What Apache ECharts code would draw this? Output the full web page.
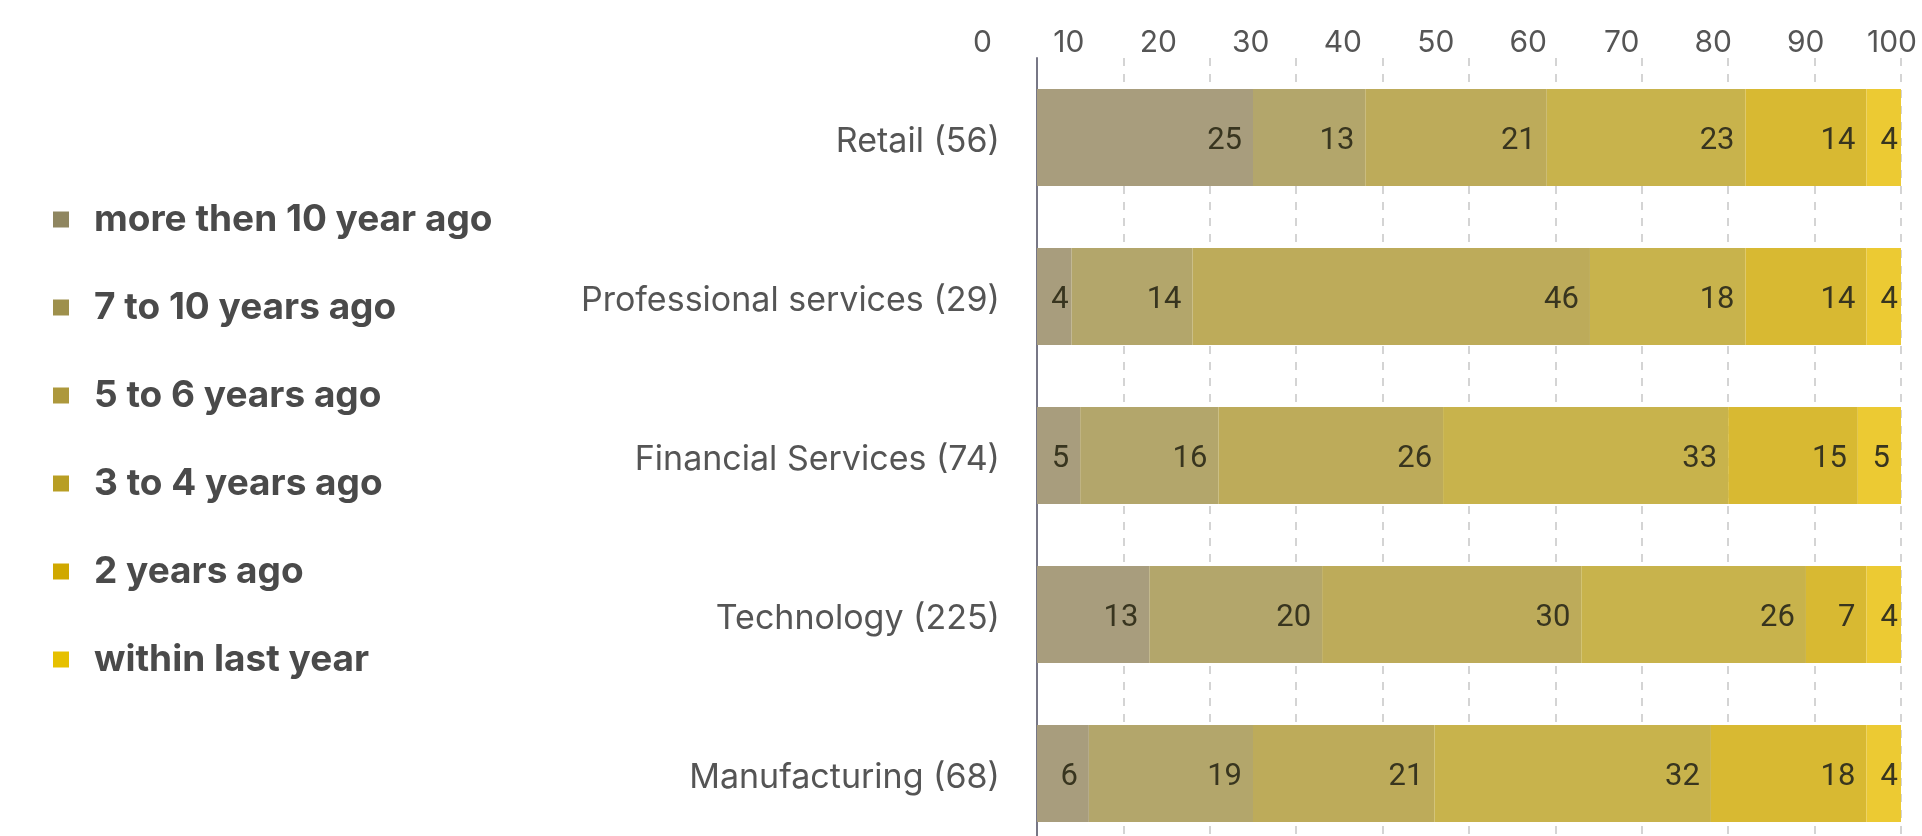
<!DOCTYPE html>
<html>
<head>
<meta charset="utf-8">
<script src="https://cdn.jsdelivr.net/npm/echarts@6/dist/echarts.min.js"></script>
<style>
  html, body { margin: 0; padding: 0; background: #ffffff; }
  #chart { width: 1922px; height: 836px; }
</style>
</head>
<body>
<div id="chart"></div>
<script>
const categories = ['Retail (56)', 'Professional services (29)', 'Financial Services (74)', 'Technology (225)', 'Manufacturing (68)'];
const seriesNames = ['more then 10 year ago', '7 to 10 years ago', '5 to 6 years ago', '3 to 4 years ago', '2 years ago', 'within last year'];
const moreThen10YearsAgo = [25, 4, 5, 13, 6];
const sevenTo10YearsAgo = [13, 14, 16, 20, 19];
const fiveTo6YearsAgo = [21, 46, 26, 30, 21];
const threeTo4YearsAgo = [23, 18, 33, 26, 32];
const twoYearsAgo = [14, 14, 15, 7, 18];
const withinLastYear = [4, 4, 5, 4, 4];
const seriesValues = [moreThen10YearsAgo, sevenTo10YearsAgo, fiveTo6YearsAgo, threeTo4YearsAgo, twoYearsAgo, withinLastYear];

const barColors = ['#a89d7d', '#b3a66b', '#bdab5a', '#c8b34c', '#d8b932', '#ecca33'];
const legendColors = ['#8f8660', '#9e904c', '#ad983c', '#b89e24', '#d0a800', '#e6c000'];

const chart = echarts.init(document.getElementById('chart'), null, { renderer: 'canvas' });

const series = seriesNames.map((name, i) => ({
  name: name,
  type: 'bar',
  stack: 'total',
  xAxisIndex: 0,
  yAxisIndex: 0,
  barWidth: '61%',
  itemStyle: { color: barColors[i] },
  emphasis: { disabled: true },
  data: seriesValues[i].map(v => ({
    value: v,
    label: { distance: v <= 4 ? 3 : 11 }
  })),
  label: {
    show: true,
    position: 'insideRight',
    offset: [0, 4],
    color: '#38351f',
    fontFamily: 'Roboto',
    fontSize: 31,
    fontWeight: 'normal'
  }
}));

const option = {
  animation: false,
  backgroundColor: '#ffffff',
  legend: {
    orient: 'vertical',
    left: 53,
    top: 201,
    padding: 0,
    icon: 'rect',
    itemWidth: 16,
    itemHeight: 16,
    itemGap: 51,
    selectedMode: false,
    data: seriesNames.map((n, i) => ({ name: n, itemStyle: { color: legendColors[i] } })),
    textStyle: {
      fontFamily: 'Inter',
      fontWeight: 'bold',
      fontSize: 37,
      lineHeight: 37,
      color: '#4a4a4a',
      padding: [0, 0, 0, 20]
    }
  },
  grid: [
    { left: 1037, right: 21, top: 58, height: 795, outerBoundsMode: 'none' },
    { left: 992, right: 5, top: 59, height: 100, outerBoundsMode: 'none' }
  ],
  xAxis: [
    {
      gridIndex: 0,
      type: 'value',
      min: 0,
      max: 100,
      interval: 10,
      axisLine: { show: false },
      axisTick: { show: false },
      axisLabel: { show: false },
      splitLine: { show: true, lineStyle: { color: '#d4d4d4', width: 2, type: [8, 8] } }
    },
    {
      gridIndex: 1,
      type: 'value',
      position: 'top',
      min: 0,
      max: 100,
      interval: 10,
      axisLine: { show: false },
      axisTick: { show: false },
      splitLine: { show: false },
      axisLabel: {
        show: true,
        align: 'right',
        verticalAlign: 'middle',
        margin: 16,
        fontFamily: 'Inter',
        fontSize: 30,
        color: '#555555'
      }
    }
  ],
  yAxis: [
    {
      gridIndex: 0,
      type: 'category',
      inverse: true,
      data: categories,
      axisLine: { show: true, lineStyle: { color: '#777786', width: 2 } },
      axisTick: { show: false },
      splitLine: { show: false },
      axisLabel: {
        margin: 37,
        fontFamily: 'Inter',
        fontSize: 34,
        color: '#555555',
        verticalAlign: 'top',
        lineHeight: 8
      }
    },
    {
      gridIndex: 1,
      type: 'value',
      show: false
    }
  ],
  series: series
};

chart.setOption(option);
</script>
</body>
</html>
